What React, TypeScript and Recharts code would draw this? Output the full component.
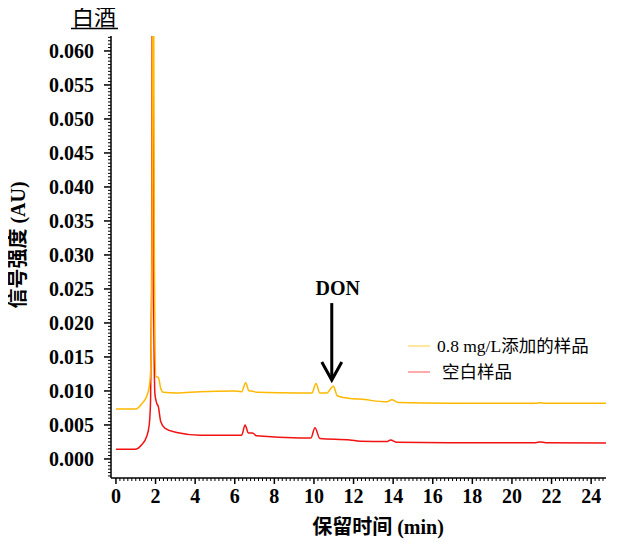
import React from 'react';
import { LineChart, Line, XAxis, YAxis, ReferenceDot } from 'recharts';

// Retention time (min) and signal (AU) — blank sample (空白样品)
const blankTime = [0, 0.96, 1.3, 1.55, 1.68, 1.75, 1.8, 1.85, 1.9, 1.97, 2.06, 2.14, 2.26, 2.48, 3.07, 4.24, 5.93, 6.35, 6.52, 6.69, 6.9, 7.1, 9.3, 9.85, 10.05, 10.3, 11.82, 12.33, 13.67, 13.87, 14.18, 16.87, 21.2, 21.42, 21.7, 24.75];
const blankSignal = [0.00143, 0.00143, 0.0021, 0.0033, 0.005, 0.0087, 0.025, 0.09, 0.025, 0.0095, 0.0082, 0.0077, 0.0055, 0.0045, 0.0039, 0.0035, 0.0035, 0.0035, 0.005, 0.0038, 0.0038, 0.0034, 0.0031, 0.0031, 0.0046, 0.003, 0.0028, 0.0026, 0.00255, 0.0028, 0.00245, 0.0024, 0.0024, 0.0025, 0.0024, 0.00235];

// Spiked sample (0.8 mg/L添加的样品)
const spikedTime = [0, 1.01, 1.3, 1.55, 1.68, 1.76, 1.82, 1.88, 1.94, 2.02, 2.14, 2.26, 2.39, 3.07, 4.24, 5.93, 6.35, 6.55, 6.72, 6.86, 7.1, 9.3, 9.9, 10.1, 10.3, 10.64, 10.98, 11.18, 11.82, 12.33, 13.67, 13.93, 14.26, 16.87, 21.2, 21.42, 21.7, 24.75];
const spikedSignal = [0.00735, 0.00735, 0.0081, 0.0092, 0.0106, 0.0135, 0.03, 0.09, 0.03, 0.0121, 0.012, 0.0104, 0.0098, 0.0097, 0.0099, 0.01, 0.0099, 0.0112, 0.01, 0.01, 0.0098, 0.0097, 0.0097, 0.0111, 0.0097, 0.0097, 0.0107, 0.0093, 0.0089, 0.0088, 0.0084, 0.0087, 0.0083, 0.0082, 0.0082, 0.00828, 0.0082, 0.0082];

const xMajorTicks = [0, 2, 4, 6, 8, 10, 12, 14, 16, 18, 20, 22, 24];
const yMajorTicks = [0, 0.005, 0.01, 0.015, 0.02, 0.025, 0.03, 0.035, 0.04, 0.045, 0.05, 0.055, 0.06];
const seriesNames = ['0.8 mg/L添加的样品', '空白样品'];
const donTime = 10.9;
const donSignal = 0.0116;

// all tick positions (minor every 0.2 min / 0.0005 AU)
const xAllTicks: number[] = [];
for (let i = 0; i <= 123; i++) xAllTicks.push(Math.round(i * 2) / 10);
const yAllTicks: number[] = [];
for (let i = -5; i <= 124; i++) yAllTicks.push(Math.round(i * 5) / 10000);
const xMajorSet = new Set(xMajorTicks.map((v) => Math.round(v * 10)));
const yMajorSet = new Set(yMajorTicks.map((v) => Math.round(v * 10000)));

const blankData = blankTime.map((t, i) => ({ t, v: blankSignal[i] }));
const spikedData = spikedTime.map((t, i) => ({ t, v: spikedSignal[i] }));

const X_DOMAIN: [number, number] = [-0.25, 24.75];
const Y_DOMAIN: [number, number] = [-0.0028, 0.0622];

const SERIF = "Liberation Serif, Times New Roman, Noto Sans CJK SC, serif";
const YELLOW = '#FFB800';
const RED = '#F21212';

const XTick = (props: any) => {
  const { x, y, payload } = props;
  const major = xMajorSet.has(Math.round(payload.value * 10));
  return (
    <g>
      <line x1={x} y1={y} x2={x} y2={y + (major ? 6 : 3)} stroke="#000" strokeWidth={major ? 1.5 : 1} />
      {major && (
        <text x={x} y={y + 11} dy="0.71em" textAnchor="middle" style={{ fontFamily: SERIF, fontWeight: 700, fontSize: 20 }} fill="#000">
          {String(payload.value)}
        </text>
      )}
    </g>
  );
};

const YTick = (props: any) => {
  const { x, y, payload } = props;
  const major = yMajorSet.has(Math.round(payload.value * 10000));
  return (
    <g>
      <line x1={x - (major ? 7 : 3)} y1={y} x2={x} y2={y} stroke="#000" strokeWidth={major ? 1.5 : 1} />
      {major && (
        <text x={x - 17} y={y} dy="0.34em" textAnchor="end" style={{ fontFamily: SERIF, fontWeight: 700, fontSize: 20 }} fill="#000">
          {Number(payload.value).toFixed(3)}
        </text>
      )}
    </g>
  );
};

const DonArrow = (props: any) => {
  const { cx, cy } = props;
  if (cx == null || cy == null) return null;
  return (
    <g>
      <line x1={cx} y1={cy - 77} x2={cx} y2={cy - 1} stroke="#000" strokeWidth={3} />
      <polyline points={`${cx - 10},${cy - 18} ${cx},${cy} ${cx + 10},${cy - 18}`} fill="none" stroke="#000" strokeWidth={3} />
      <text x={cx + 6} y={cy - 92} textAnchor="middle" dominantBaseline="central" style={{ fontFamily: SERIF, fontWeight: 700, fontSize: 20 }} fill="#000">DON</text>
    </g>
  );
};

export default function App() {
  return (
    <div style={{ position: 'relative', width: 612, height: 534 }}>
      <LineChart width={612} height={534} margin={{ top: 28, right: 14, bottom: 34, left: 33 }}>
        <XAxis type="number" dataKey="t" domain={X_DOMAIN} allowDataOverflow ticks={xAllTicks} interval={0} tick={XTick} tickLine={false} tickSize={0} tickMargin={0} height={30} axisLine={{ stroke: '#000', strokeWidth: 1.5 }} />
        <YAxis type="number" dataKey="v" domain={Y_DOMAIN} allowDataOverflow ticks={yAllTicks} interval={0} tick={YTick} tickLine={false} tickSize={0} tickMargin={0} width={70} axisLine={{ stroke: '#000', strokeWidth: 1.5 }} />
        <Line data={blankData} dataKey="v" name={seriesNames[1]} type="monotone" stroke={RED} strokeWidth={1.5} dot={false} isAnimationActive={false} />
        <Line data={spikedData} dataKey="v" name={seriesNames[0]} type="monotone" stroke={YELLOW} strokeWidth={1.5} dot={false} isAnimationActive={false} />
        <ReferenceDot x={donTime} y={donSignal} r={0} shape={DonArrow} />
      </LineChart>
      <svg width={620} height={542} style={{ position: 'absolute', left: -8, top: -8, pointerEvents: 'none' }}>
        <text x={94} y={25} textAnchor="middle" style={{ fontFamily: SERIF, fontSize: 22 }} fill="#000">白酒</text>
        <line x1={71} y1={28.5} x2={118} y2={28.5} stroke="#000" strokeWidth={1.5} />
        <text x={18} y={245} transform="rotate(-90 18 245)" textAnchor="middle" dominantBaseline="central" style={{ fontFamily: SERIF, fontWeight: 700, fontSize: 20 }} fill="#000">信号强度 (AU)</text>
        <text x={378} y={527} textAnchor="middle" dominantBaseline="central" style={{ fontFamily: SERIF, fontWeight: 700, fontSize: 20 }} fill="#000">保留时间 (min)</text>
        <line x1={408} y1={346} x2={430} y2={346} stroke="#FFE07A" strokeWidth={1.5} />
        <text x={437} y={346} dominantBaseline="central" style={{ fontFamily: SERIF, fontSize: 17.5 }} fill="#000">{seriesNames[0]}</text>
        <line x1={408} y1={372} x2={430} y2={372} stroke="#FF8F8F" strokeWidth={1.5} />
        <text x={442} y={372} dominantBaseline="central" style={{ fontFamily: SERIF, fontSize: 17.5 }} fill="#000">{seriesNames[1]}</text>
      </svg>
    </div>
  );
}
